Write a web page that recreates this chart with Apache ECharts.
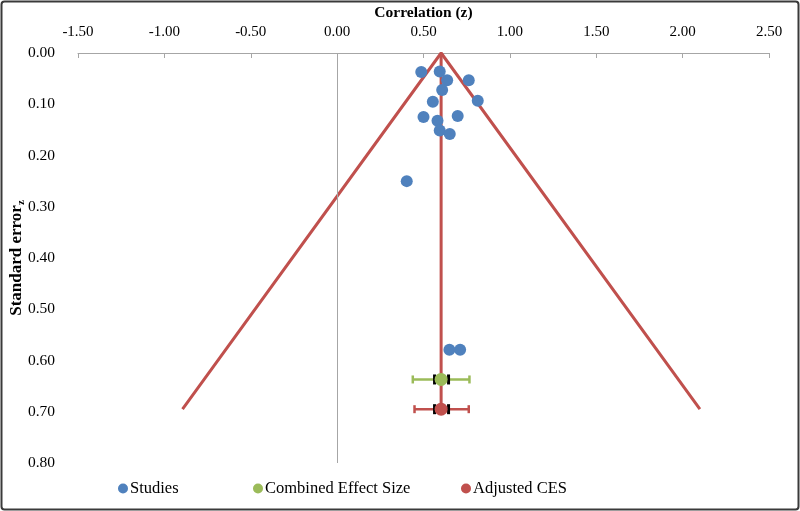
<!DOCTYPE html>
<html><head><meta charset="utf-8">
<script src="https://cdn.jsdelivr.net/npm/echarts@6/dist/echarts.min.js"></script>
<style>html,body{margin:0;padding:0;background:#fff}#c{width:800px;height:511px}</style>
</head><body><div id="c"></div>
<script>
// Study points (correlation z, standard error z)
const studyZ  = [0.487, 0.594, 0.637, 0.762, 0.608, 0.814, 0.554, 0.500, 0.581, 0.698, 0.594, 0.652, 0.403, 0.650, 0.712];
const studySE = [0.037, 0.036, 0.053, 0.053, 0.072, 0.093, 0.095, 0.125, 0.132, 0.123, 0.151, 0.158, 0.250, 0.579, 0.579];
// Combined / adjusted effect sizes
const cesNames = ['Combined Effect Size', 'Adjusted CES'];
const cesZ    = [0.602, 0.602];
const cesSE   = [0.637, 0.695];
const cesLo   = [0.438, 0.448];
const cesHi   = [0.766, 0.762];
const cesInLo = [0.564, 0.564];
const cesInHi = [0.645, 0.645];
// Funnel
const funnelZ  = [-0.895, 0.602, 2.100];
const funnelSE = [0.695, 0.000, 0.695];
const centerZ  = [0.602, 0.602];
const centerSE = [0.000, 0.695];
// Axes
const xMin = -1.5, xMax = 2.5, xStep = 0.5;
const yMin = 0, yMax = 0.8, yStep = 0.1;

const BLUE = '#4f81bd', GREEN = '#9bbb59', RED = '#c0504d';
const FONT = 'Liberation Serif';

const chart = echarts.init(document.getElementById('c'));

function errBar(color, idx) {
  return {
    type: 'custom', name: 'err' + idx, silent: true, z: 3,
    itemStyle: {color: color},
    data: [[cesZ[idx], cesSE[idx], cesLo[idx], cesHi[idx], cesInLo[idx], cesInHi[idx]]],
    renderItem: function (params, api) {
      const se = api.value(1);
      const lo = api.coord([api.value(2), se]);
      const hi = api.coord([api.value(3), se]);
      const il = api.coord([api.value(4), se]);
      const ih = api.coord([api.value(5), se]);
      const cap = 4, bk = 5;
      const ls = {stroke: color, lineWidth: 2.5};
      const ks = {stroke: '#000', lineWidth: 3};
      return {type: 'group', children: [
        {type: 'line', shape: {x1: lo[0], y1: lo[1], x2: hi[0], y2: hi[1]}, style: ls},
        {type: 'line', shape: {x1: lo[0], y1: lo[1]-cap, x2: lo[0], y2: lo[1]+cap}, style: ls},
        {type: 'line', shape: {x1: hi[0], y1: hi[1]-cap, x2: hi[0], y2: hi[1]+cap}, style: ls},
        {type: 'line', shape: {x1: il[0], y1: il[1]-bk, x2: il[0], y2: il[1]+bk}, style: ks},
        {type: 'line', shape: {x1: ih[0], y1: ih[1]-bk, x2: ih[0], y2: ih[1]+bk}, style: ks}
      ]};
    }
  };
}

const legendCommon = {
  bottom: 9, icon: 'circle', itemWidth: 10, itemHeight: 10, itemGap: 4,
  textStyle: {fontFamily: FONT, fontSize: 16.5, color: '#000', padding: [0, 0, 0, -3]}
};

chart.setOption({
  animation: false,
  textStyle: {fontFamily: FONT},
  grid: {left: 78, right: 31, top: 53, bottom: 48, outerBoundsMode: 'none', containLabel: false},
  legend: [
    Object.assign({left: 113, data: ['Studies']}, legendCommon),
    Object.assign({left: 248, data: ['Combined Effect Size']}, legendCommon),
    Object.assign({left: 456, data: ['Adjusted CES']}, legendCommon)
  ],
  xAxis: {
    type: 'value', position: 'top', min: xMin, max: xMax, interval: xStep,
    name: 'Correlation (z)', nameLocation: 'middle', nameGap: 32, nameMoveOverlap: false,
    nameTextStyle: {fontFamily: FONT, fontSize: 15.5, fontWeight: 'bold', color: '#000'},
    axisLine: {show: true, onZero: false, lineStyle: {color: '#a6a6a6', width: 1}},
    axisTick: {show: true, inside: true, length: 5, lineStyle: {color: '#a6a6a6'}},
    axisLabel: {fontFamily: FONT, fontSize: 15, color: '#000', margin: 13,
      formatter: v => v.toFixed(2)},
    splitLine: {show: false}
  },
  yAxis: {
    type: 'value', inverse: true, min: yMin, max: yMax, interval: yStep,
    name: '{b|Standard error}{s|z}', nameLocation: 'middle', nameGap: 51, nameRotate: 90,
    nameMoveOverlap: false,
    nameTextStyle: {rich: {
      b: {fontFamily: FONT, fontSize: 17, fontWeight: 'bold', color: '#000'},
      s: {fontFamily: FONT, fontSize: 11, fontWeight: 'bold', color: '#000', verticalAlign: 'bottom', padding: [9, 0, 0, 0]}
    }},
    axisLine: {show: false},
    axisTick: {show: false},
    axisLabel: {fontFamily: FONT, fontSize: 15.5, color: '#000', margin: 23,
      formatter: v => v.toFixed(2)},
    splitLine: {show: false}
  },
  series: [
    {
      type: 'line', name: 'funnel', silent: true, z: 1, symbol: 'none',
      data: funnelZ.map((z, i) => [z, funnelSE[i]]),
      lineStyle: {color: RED, width: 3},
      markLine: {
        silent: true, symbol: 'none', label: {show: false},
        lineStyle: {color: '#a6a6a6', width: 1, type: 'solid'},
        data: [{xAxis: 0}]
      }
    },
    {
      type: 'line', name: 'center', silent: true, z: 1, symbol: 'none',
      data: centerZ.map((z, i) => [z, centerSE[i]]),
      lineStyle: {color: RED, width: 3}
    },
    errBar(GREEN, 0),
    errBar(RED, 1),
    {
      type: 'scatter', name: 'Studies', z: 4, symbolSize: 12,
      itemStyle: {color: BLUE, opacity: 1},
      data: studyZ.map((z, i) => [z, studySE[i]])
    },
    {
      type: 'scatter', name: cesNames[0], z: 5, symbolSize: 13,
      itemStyle: {color: GREEN, opacity: 1},
      data: [[cesZ[0], cesSE[0]]]
    },
    {
      type: 'scatter', name: cesNames[1], z: 5, symbolSize: 13,
      itemStyle: {color: RED, opacity: 1},
      data: [[cesZ[1], cesSE[1]]]
    }
  ],
  graphic: [{
    type: 'rect', silent: true, z: 100,
    shape: {x: 1.5, y: 1.5, width: 797, height: 508, r: 3},
    style: {fill: 'none', stroke: '#3a3a3a', lineWidth: 2}
  }]
});
</script></body></html>
